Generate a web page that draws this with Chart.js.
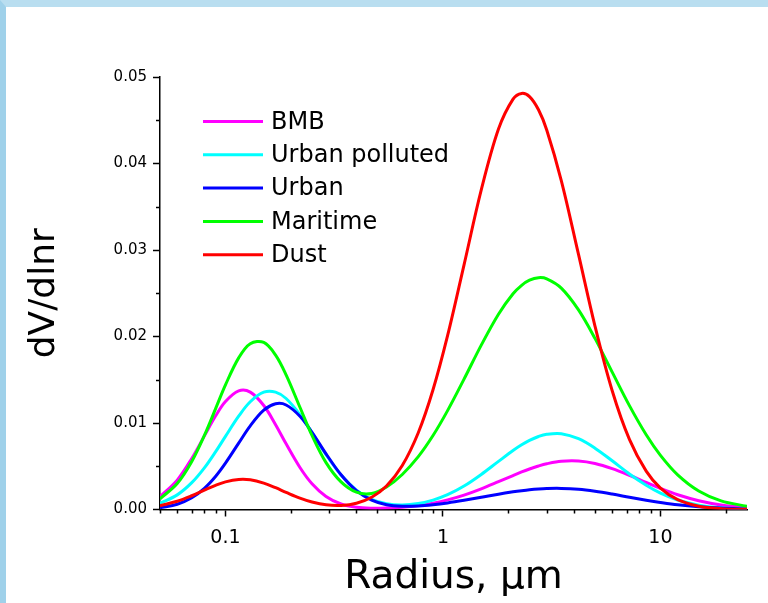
<!DOCTYPE html>
<html>
<head>
<meta charset="utf-8">
<script src="https://cdn.jsdelivr.net/npm/chart.js@4.4.0/dist/chart.umd.min.js"></script>
<style>
  html, body { margin: 0; padding: 0; background: #fff; }
  #frame {
    position: absolute; left: 0; top: 0;
    width: 762px; height: 596px;
    border-left: 6px solid #9fd1ea;
    border-top: 7px solid #b9def0;
    background: #fff;
  }
  canvas { display: block; }
</style>
</head>
<body>
<div id="frame"><canvas id="psdChart" width="762" height="596"></canvas></div>
<script>
// DATA
const radius = [0.05, 0.06, 0.07, 0.08, 0.09, 0.1, 0.115, 0.13, 0.15, 0.17, 0.19, 0.22, 0.25, 0.29, 0.34,
  0.4, 0.47, 0.55, 0.65, 0.77, 0.9, 1.05, 1.25, 1.5, 1.8, 2.1, 2.3, 2.5, 2.75, 3, 3.5, 4.2, 5, 6, 7.2, 8.6, 10,
  12, 15, 19, 25];

const bmb = [0.00149, 0.00340, 0.00590, 0.00851, 0.01080, 0.01248, 0.01371, 0.01357, 0.01202, 0.00981, 0.00759,
  0.00486, 0.00298, 0.00151, 0.00064, 0.00026, 0.00015, 0.00017, 0.00027, 0.00047, 0.00074, 0.00111, 0.00166,
  0.00238, 0.00321, 0.00393, 0.00434, 0.00468, 0.00503, 0.00529, 0.00558, 0.00561, 0.00532, 0.00473, 0.00396,
  0.00313, 0.00244, 0.00171, 0.00102, 0.00053, 0.00022];

const urbanPolluted = [0.00072, 0.00169, 0.00310, 0.00481, 0.00666, 0.00846, 0.01079, 0.01246, 0.01356, 0.01357,
  0.01283, 0.01097, 0.00888, 0.00635, 0.00399, 0.00224, 0.00117, 0.00066, 0.00052, 0.00069, 0.00109, 0.00171,
  0.00271, 0.00405, 0.00556, 0.00682, 0.00748, 0.00799, 0.00844, 0.00870, 0.00876, 0.00818, 0.00709, 0.00563,
  0.00411, 0.00280, 0.00189, 0.00110, 0.00050, 0.00019, 0.00005];

const urban = [0.00020, 0.00061, 0.00136, 0.00245, 0.00382, 0.00536, 0.00767, 0.00967, 0.01148, 0.01222, 0.01208,
  0.01078, 0.00892, 0.00644, 0.00401, 0.00218, 0.00109, 0.00056, 0.00038, 0.00041, 0.00055, 0.00076, 0.00106,
  0.00141, 0.00177, 0.00204, 0.00218, 0.00229, 0.00238, 0.00243, 0.00244, 0.00233, 0.00210, 0.00178, 0.00142,
  0.00108, 0.00082, 0.00055, 0.00032, 0.00016, 0.00006];

const maritime = [0.00124, 0.00300, 0.00555, 0.00856, 0.01163, 0.01441, 0.01753, 0.01917, 0.01932, 0.01785, 0.01557,
  0.01182, 0.00856, 0.00542, 0.00319, 0.00200, 0.00185, 0.00260, 0.00405, 0.00611, 0.00855, 0.01143, 0.01507,
  0.01900, 0.02258, 0.02494, 0.02592, 0.02651, 0.02680, 0.02667, 0.02560, 0.02308, 0.01978, 0.01588, 0.01201,
  0.00864, 0.00626, 0.00401, 0.00214, 0.00100, 0.00037];

const dust = [0.00044, 0.00095, 0.00159, 0.00224, 0.00279, 0.00319, 0.00347, 0.00343, 0.00305, 0.00252, 0.00198,
  0.00131, 0.00086, 0.00054, 0.00047, 0.00073, 0.00142, 0.00271, 0.00508, 0.00887, 0.01384, 0.02009, 0.02828,
  0.03694, 0.04398, 0.04744, 0.04810, 0.04773, 0.04621, 0.04388, 0.03803, 0.02949, 0.02121, 0.01373, 0.00810,
  0.00444, 0.00248, 0.00113, 0.00038, 0.00010, 0.00002];

const seriesNames = ["BMB", "Urban polluted", "Urban", "Maritime", "Dust"];
const seriesColors = ["#ff00ff", "#00ffff", "#0000ff", "#00ff00", "#ff0000"];

const xTickValues = [0.05, 0.06, 0.07, 0.08, 0.09, 0.1, 0.2, 0.3, 0.4, 0.5, 0.6, 0.7, 0.8, 0.9,
  1, 2, 3, 4, 5, 6, 7, 8, 9, 10, 20];
const xLabelValues = [0.1, 1, 10];
const yTickValues = [0, 0.005, 0.01, 0.015, 0.02, 0.025, 0.03, 0.035, 0.04, 0.045, 0.05];

const FONT = "'DejaVu Sans', 'Liberation Sans', Arial, sans-serif";

// minor tick marks (shorter than the major ones)
const minorTicks = {
  id: "minorTicks",
  afterDraw(chart) {
    const { ctx, scales: { x, y } } = chart;
    ctx.save();
    ctx.strokeStyle = "#000";
    ctx.lineWidth = 1.5;
    ctx.beginPath();
    x.ticks.forEach(t => {
      if (!xLabelValues.includes(t.value)) {
        const px = Math.round(x.getPixelForValue(t.value)) + 0.5;
        ctx.moveTo(px, x.top);
        ctx.lineTo(px, x.top + 4);
      }
    });
    y.ticks.forEach((t, i) => {
      if (i % 2 === 1) {
        const py = Math.round(y.getPixelForValue(t.value)) + 0.5;
        ctx.moveTo(y.right, py);
        ctx.lineTo(y.right - 4, py);
      }
    });
    ctx.stroke();
    ctx.restore();
  }
};

// legend drawn inside the plot, top-left
const insideLegend = {
  id: "insideLegend",
  afterDraw(chart) {
    const ctx = chart.ctx;
    const x0 = 197, y0 = 114.5, step = 33.3;
    ctx.save();
    ctx.font = "24px " + FONT;
    ctx.textBaseline = "middle";
    ctx.fillStyle = "#000";
    chart.data.datasets.forEach((ds, i) => {
      const y = y0 + i * step;
      ctx.strokeStyle = ds.borderColor;
      ctx.lineWidth = 3;
      ctx.beginPath();
      ctx.moveTo(x0, y);
      ctx.lineTo(x0 + 60, y);
      ctx.stroke();
      ctx.fillText(ds.label, x0 + 68, y + 1);
    });
    ctx.restore();
  }
};

const allSeries = [bmb, urbanPolluted, urban, maritime, dust];

new Chart(document.getElementById("psdChart"), {
  type: "line",
  data: {
    datasets: allSeries.map((vals, i) => ({
      label: seriesNames[i],
      data: radius.map((r, k) => ({ x: r, y: vals[k] })),
      borderColor: seriesColors[i],
      backgroundColor: seriesColors[i],
      borderWidth: 3,
      pointRadius: 0,
      tension: 0.35,
      fill: false,
      order: allSeries.length - i
    }))
  },
  options: {
    responsive: false,
    animation: false,
    layout: { padding: { left: 0, right: 21, top: 70, bottom: 0 } },
    plugins: {
      legend: { display: false },
      tooltip: { enabled: false }
    },
    scales: {
      x: {
        type: "logarithmic",
        position: "bottom",
        min: 0.05,
        max: 25,
        afterBuildTicks: s => {
          s.ticks = xTickValues.map(v => ({ value: v }));
        },
        afterFit: s => { s.height = 93.5; },
        ticks: {
          autoSkip: false,
          maxRotation: 0,
          color: "#000",
          padding: 10,
          font: { family: FONT, size: 19 },
          callback: v => (xLabelValues.includes(v) ? String(v) : "")
        },
        grid: {
          drawOnChartArea: false,
          drawTicks: true,
          tickLength: 7,
          tickWidth: 1.5,
          tickColor: c => (c.tick && xLabelValues.includes(c.tick.value) ? "#000" : "rgba(0,0,0,0)")
        },
        border: { display: true, color: "#000", width: 1.5 },
        title: {
          display: true,
          text: "Radius, \u03bcm",
          color: "#000",
          font: { family: FONT, size: 39 },
          padding: { top: 0, bottom: 2 }
        }
      },
      y: {
        type: "linear",
        position: "left",
        min: 0,
        max: 0.05,
        afterBuildTicks: s => {
          s.ticks = yTickValues.map(v => ({ value: v }));
        },
        afterFit: s => { s.width = 154; },
        ticks: {
          autoSkip: false,
          color: "#000",
          padding: 6,
          font: { family: FONT, size: 15 },
          callback: (v, i) => (i % 2 === 0 ? v.toFixed(2) : "")
        },
        grid: {
          drawOnChartArea: false,
          drawTicks: true,
          tickLength: 7,
          tickWidth: 1.5,
          tickColor: c => (c.index % 2 === 0 ? "#000" : "rgba(0,0,0,0)")
        },
        border: { display: true, color: "#000", width: 1.5 },
        title: {
          display: true,
          text: "dV/dlnr",
          color: "#000",
          font: { family: FONT, size: 36 },
          padding: { top: 17, bottom: 0 }
        }
      }
    }
  },
  plugins: [minorTicks, insideLegend]
});
</script>
</body>
</html>
